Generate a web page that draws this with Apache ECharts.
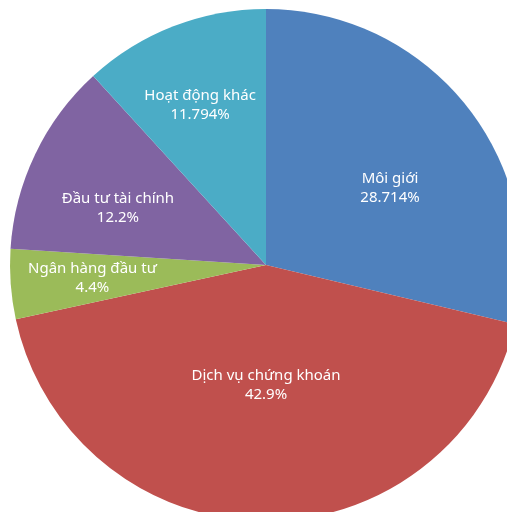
<!DOCTYPE html>
<html><head><meta charset="utf-8">
<script src="https://cdn.jsdelivr.net/npm/echarts@6/dist/echarts.min.js"></script>
<style>html,body{margin:0;padding:0;background:#fff;}#c{width:507px;height:512px;}</style>
</head><body><div id="c"></div>
<script>
var categories = ['Môi giới', 'Dịch vụ chứng khoán', 'Ngân hàng đầu tư', 'Đầu tư tài chính', 'Hoạt động khác'];
var values = [28.714, 42.9, 4.4, 12.2, 11.794];
var labels = ['28.714%', '42.9%', '4.4%', '12.2%', '11.794%'];
var colors = ['#4F81BD', '#C0504D', '#9BBB59', '#8064A2', '#4BACC6'];
var labelRadius = [0.57, 0.47, 0.68, 0.62, 0.675];
var labelAngleShift = [6.5, -0.6, 0, -4.5, -1.2];

var chart = echarts.init(document.getElementById('c'));
var CX = 266, CY = 265, R = 256;
chart.setOption({
  animation: false,
  color: colors,
  series: [{
    type: 'pie',
    center: [CX, CY],
    radius: [0, R],
    startAngle: 90,
    clockwise: true,
    avoidLabelOverlap: false,
    itemStyle: { borderWidth: 0 },
    label: {
      show: true,
      position: 'inside',
      color: '#fff',
      fontFamily: 'Noto Sans',
      fontSize: 15,
      lineHeight: 19,
      formatter: function (p) { return p.name + '\n' + labels[p.dataIndex]; }
    },
    labelLine: { show: false },
    emphasis: { disabled: true },
    data: categories.map(function (n, i) { return { name: n, value: values[i] }; })
  }]
});
chart.setOption({
  series: [{
    labelLayout: function (p) {
      var r = p.labelRect;
      var lx = r.x + r.width / 2, ly = r.y + r.height / 2;
      var vx = lx - CX, vy = ly - CY;
      var a = Math.atan2(vx, -vy) + labelAngleShift[p.dataIndex] * Math.PI / 180;
      var rr = labelRadius[p.dataIndex] * R;
      var nx = CX + rr * Math.sin(a), ny = CY - rr * Math.cos(a);
      return { dx: nx - lx, dy: ny - ly };
    }
  }]
});
</script></body></html>
